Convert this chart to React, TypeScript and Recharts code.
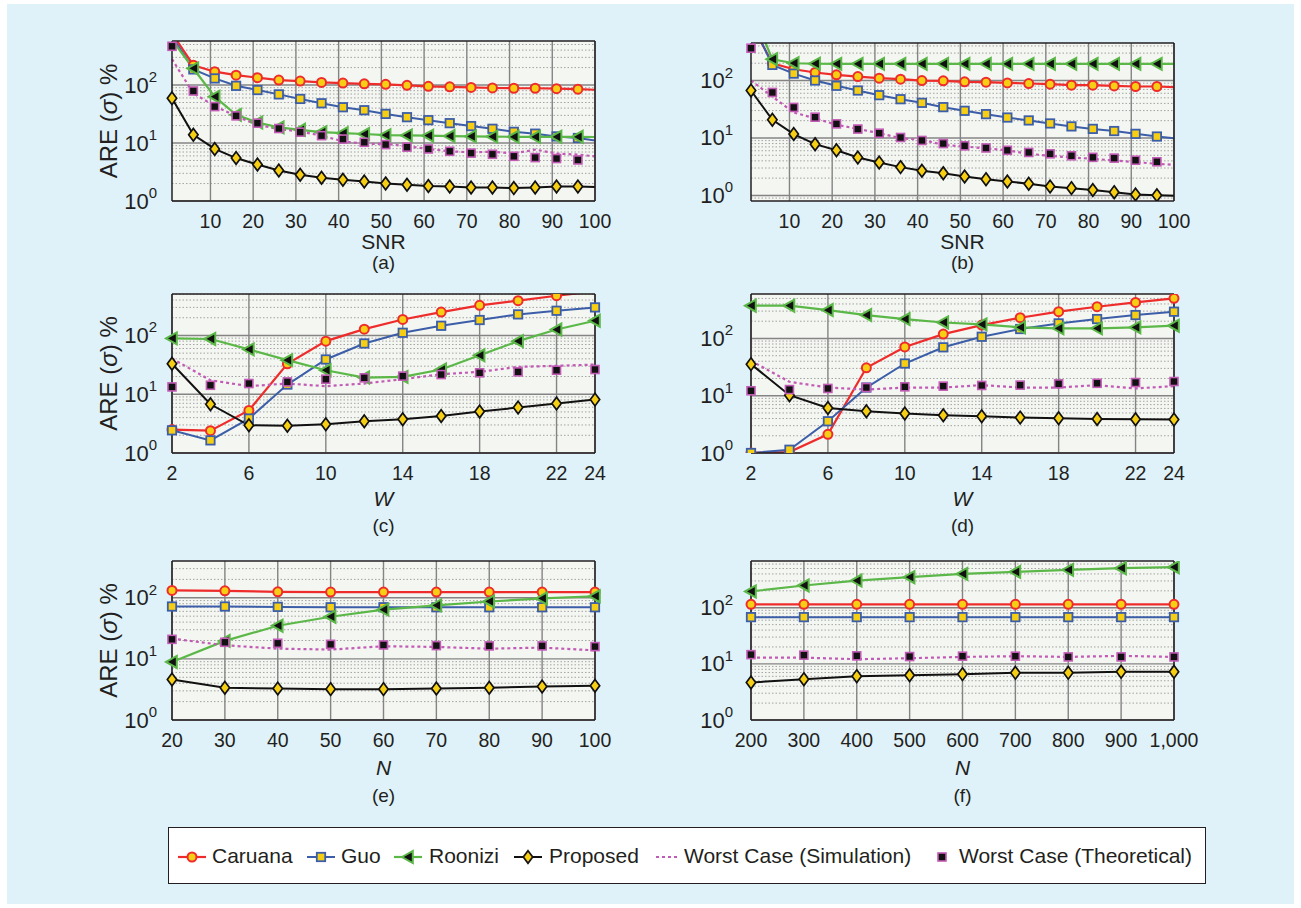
import React from 'react'
import { LineChart, Line, XAxis, YAxis, CartesianGrid, ReferenceLine } from 'recharts'

const FONT = '"Liberation Sans", Arial, Helvetica, sans-serif'
const INK = '#231f20'
const RED = '#ee2c2c'
const BLUE = '#3c5ea9'
const GREEN = '#5bb848'
const MAGENTA = '#c25bb5'
const YELLOW = '#f6cf14'
const PLOT_BG = '#f4f6f1'
const PAGE_BG = '#dff2fa'

// (a) ARE vs SNR
const snrA = [1, 6, 11, 16, 21, 26, 31, 36, 41, 46, 51, 56, 61, 66, 71, 76, 81, 86, 91, 96, 100]
const caruanaA = [780, 220, 170, 148, 134, 122, 117, 111, 108, 105, 103, 99, 95, 93, 91, 89, 88, 88, 86.5, 85, 83]
const guoA = [690, 186, 130, 97, 82, 69, 57.6, 48.5, 41.4, 36.8, 31.8, 27.9, 24.8, 22, 19.6, 17.6, 15.6, 14.5, 13, 12.2, 11.1]
const roonA = [600, 193, 63, 30.6, 22.6, 18.6, 16.9, 15.4, 14.8, 14.3, 13.7, 13.5, 13.4, 13.2, 13, 12.9, 12.8, 12.8, 12.8, 12.8, 12.7]
const propA = [59, 13.9, 7.9, 5.5, 4.25, 3.36, 2.83, 2.51, 2.32, 2.17, 2.01, 1.91, 1.81, 1.78, 1.71, 1.71, 1.67, 1.71, 1.78, 1.78, 1.74]
const wcSimA = [280, 72, 43.5, 29, 20.6, 17.4, 15.8, 13.4, 10.7, 9.7, 9.7, 8.8, 7.9, 7.2, 6.9, 7.1, 6.6, 7.7, 6.6, 6.3, 5.9]
const wcTheoA = [466, 79, 42.5, 29.4, 22, 17.8, 15.4, 13.4, 11.7, 10.3, 9.4, 8.5, 7.9, 7.2, 6.7, 6.4, 5.9, 5.6, 5.4, 5.1, null]

// (b) ARE vs SNR
const snrB = [1, 6, 11, 16, 21, 26, 31, 36, 41, 46, 51, 56, 61, 66, 71, 76, 81, 86, 91, 96, 100]
const caruanaB = [1000, 200, 157, 138, 125.5, 117, 110, 105.5, 100, 98.7, 94.8, 93.6, 91, 88.7, 86.4, 83, 83, 80.7, 78.7, 78.7, 76.6]
const guoB = [1120, 187, 132, 100, 81, 67, 55.6, 47.3, 40.9, 34.4, 29.7, 26, 22.7, 20.2, 17.9, 15.9, 14.4, 13.2, 11.8, 10.6, 9.9]
const roonB = [1800, 235, 200, 196, 195, 195, 195, 195, 195, 195, 195, 195, 195, 195, 195, 195, 195, 195, 195, 195, 195]
const propB = [67, 20.7, 11.7, 7.8, 6.1, 4.58, 3.75, 3.11, 2.69, 2.44, 2.14, 1.92, 1.75, 1.6, 1.43, 1.34, 1.24, 1.14, 1.04, 1.01, 0.99]
const wcSimB = [100, 52.7, 27.7, 22, 17, 14.4, 12.1, 9.9, 9.3, 7.6, 7.1, 6.6, 6.1, 5.3, 4.9, 4.58, 4.34, 4.06, 3.8, 3.55, 3.42]
const wcTheoB = [365, 62, 34, 23, 17.6, 14.3, 12.1, 10.2, 9.05, 8.0, 7.3, 6.7, 6.1, 5.6, 5.3, 4.9, 4.6, 4.46, 4.1, 3.85, null]

// (c) ARE vs W
const wC = [2, 4, 6, 8, 10, 12, 14, 16, 18, 20, 22, 24]
const caruanaC = [2.5, 2.4, 5.3, 33, 80, 128, 187, 250, 325, 390, 474, 560]
const guoC = [2.43, 1.64, 3.85, 14.6, 39, 73, 111, 146, 183, 228, 263, 300]
const roonC = [89, 87, 58, 38, 25.6, 19.2, 19.7, 26.3, 46, 80, 126, 178]
const propC = [33, 6.75, 2.96, 2.9, 3.08, 3.47, 3.75, 4.27, 5.07, 5.93, 6.93, 8.1]
const wcSimC = [40.5, 17.3, 13.7, 15.2, 13.7, 15.2, 18, 21.9, 24, 29.2, 30.4, 32]
const wcTheoC = [13.3, 14.2, 15.2, 16.2, 18, 19, 20.3, 21.6, 23.1, 24, 25.6, 26.3]

// (d) ARE vs W
const wD = [2, 4, 6, 8, 10, 12, 14, 16, 18, 20, 22, 24]
const caruanaD = [1.0, 1.04, 2.12, 30.7, 71, 119, 171, 230, 293, 358, 426, 501]
const guoD = [1.0, 1.14, 3.58, 13.9, 36.5, 70, 107, 146, 183, 218, 256, 293]
const roonD = [373, 373, 313, 256, 218, 190, 176, 156, 150, 150, 156, 167]
const propD = [35.6, 10.2, 6.1, 5.36, 4.88, 4.56, 4.38, 4.15, 4.04, 3.93, 3.88, 3.83]
const wcSimD = [40.7, 17.5, 13.9, 12.8, 13.9, 13.9, 15.3, 13.9, 13.9, 15.3, 13.4, 14.7]
const wcTheoD = [12.2, 12.8, 13.4, 13.9, 14.3, 14.7, 15.1, 15.3, 16.1, 16.5, 17, 17.7]

// (e) ARE vs N
const nE = [20, 30, 40, 50, 60, 70, 80, 90, 100]
const caruanaE = [132, 130, 125, 124, 124, 124, 124, 124, 124]
const guoE = [72, 72, 71, 70, 70, 70, 70, 70, 70]
const roonE = [8.9, 19.7, 34.9, 49, 64, 75, 87, 97.5, 106]
const propE = [4.6, 3.37, 3.28, 3.2, 3.2, 3.28, 3.37, 3.54, 3.63]
const wcSimE = [21.5, 16.7, 14.7, 14.2, 16.1, 15.7, 14.7, 15.3, 13.8]
const wcTheoE = [20.9, 18.7, 18, 17.3, 16.9, 16.5, 16.3, 16.3, 15.9]

// (f) ARE vs N
const nF = [200, 300, 400, 500, 600, 700, 800, 900, 1000]
const caruanaF = [115, 115, 115, 115, 115, 115, 115, 115, 115]
const guoF = [68, 68, 68, 68, 68, 68, 68, 68, 68]
const roonF = [195, 249, 305, 350, 401, 436, 473, 506, 527]
const propF = [4.66, 5.34, 6.04, 6.29, 6.56, 6.92, 6.92, 7.21, 7.21]
const wcSimF = [12.9, 12.9, 12.1, 12.6, 13.3, 13.7, 13.3, 13.9, 13.3]
const wcTheoF = [14.6, 14.3, 13.9, 13.5, 13.7, 13.7, 13.3, 13.3, 13.3]

const snrTicks = [10, 20, 30, 40, 50, 60, 70, 80, 90, 100]
const wTicks = [2, 6, 10, 14, 18, 22, 24]
const nTicksE = [20, 30, 40, 50, 60, 70, 80, 90, 100]
const nTicksF = [200, 300, 400, 500, 600, 700, 800, 900, 1000]

type Shape = 'circle' | 'square' | 'triangle' | 'diamond' | 'theo' | null

const SERIES: { key: string; name: string; color: string; width: number; dash?: string; shape: Shape }[] = [
  { key: 'caruana', name: 'Caruana', color: RED, width: 2.2, shape: 'circle' },
  { key: 'guo', name: 'Guo', color: BLUE, width: 2, shape: 'square' },
  { key: 'roonizi', name: 'Roonizi', color: GREEN, width: 2.2, shape: 'triangle' },
  { key: 'proposed', name: 'Proposed', color: '#111', width: 2, shape: 'diamond' },
  { key: 'wcSim', name: 'Worst Case (Simulation)', color: MAGENTA, width: 2.2, dash: '3 3', shape: null },
  { key: 'wcTheo', name: 'Worst Case (Theoretical)', color: 'none', width: 0, shape: 'theo' },
]

function marker(shape: Shape, cx: number, cy: number, key?: React.Key) {
  switch (shape) {
    case 'circle':
      return <circle key={key} cx={cx} cy={cy} r={4.5} fill={YELLOW} stroke={RED} strokeWidth={2} />
    case 'square':
      return <rect key={key} x={cx - 4.2} y={cy - 4.2} width={8.4} height={8.4} fill={YELLOW} stroke={BLUE} strokeWidth={1.8} />
    case 'triangle':
      return (
        <polygon key={key} points={`${cx - 6},${cy} ${cx + 4.8},${cy - 6} ${cx + 4.8},${cy + 6}`}
          fill="#111" stroke={GREEN} strokeWidth={2} strokeLinejoin="miter" />
      )
    case 'diamond':
      return (
        <polygon key={key} points={`${cx},${cy - 6.3} ${cx + 4.7},${cy} ${cx},${cy + 6.3} ${cx - 4.7},${cy}`}
          fill={YELLOW} stroke="#111" strokeWidth={1.7} />
      )
    case 'theo':
      return <rect key={key} x={cx - 4} y={cy - 4} width={8} height={8} fill="#111" stroke={MAGENTA} strokeWidth={1.6} />
    default:
      return <g key={key} />
  }
}

function makeDot(shape: Shape, yMax: number) {
  // eslint-disable-next-line @typescript-eslint/no-explicit-any
  return (props: any) => {
    const { cx, cy, index, value, payload } = props
    if (cx == null || cy == null || value == null || value > yMax || !payload.mark) return <g key={index} />
    return marker(shape, cx, cy, index)
  }
}

// eslint-disable-next-line @typescript-eslint/no-explicit-any
function PowTick({ x, y, payload }: any) {
  const exp = Math.round(Math.log10(payload.value))
  return (
    <text x={x} y={y} textAnchor="end" dominantBaseline="central" fontSize={22} fill={INK} fontFamily={FONT}>
      10<tspan dy={-9} fontSize={15}>{exp}</tspan>
    </text>
  )
}

// eslint-disable-next-line @typescript-eslint/no-explicit-any
function YTitle({ viewBox }: any) {
  if (!viewBox) return null
  const cx = viewBox.x + 16
  const cy = viewBox.y + viewBox.height / 2
  return (
    <text x={cx} y={cy} transform={`rotate(-90 ${cx} ${cy})`} textAnchor="middle" dominantBaseline="central"
      fontSize={24} fill={INK} fontFamily={FONT}>
      ARE (<tspan fontStyle="italic">σ</tspan>) %
    </text>
  )
}

// eslint-disable-next-line @typescript-eslint/no-explicit-any
function XCaption({ viewBox, title, italic, tag, titleDy, tagDy }: any) {
  if (!viewBox) return null
  const cx = viewBox.x + viewBox.width / 2
  return (
    <g>
      <text x={cx} y={viewBox.y + titleDy} textAnchor="middle" dominantBaseline="central" fontSize={21}
        fontStyle={italic ? 'italic' : 'normal'} fill={INK} fontFamily={FONT}>{title}</text>
      <text x={cx} y={viewBox.y + tagDy} textAnchor="middle" dominantBaseline="central" fontSize={19}
        fill={INK} fontFamily={FONT}>{tag}</text>
    </g>
  )
}

type Panel = {
  x: number[]
  caruana: (number | null)[]
  guo: (number | null)[]
  roonizi: (number | null)[]
  proposed: (number | null)[]
  wcSim: (number | null)[]
  wcTheo: (number | null)[]
  xDomain: [number, number]
  xTicks: number[]
  yDomain: [number, number]
  left: number
  top: number
  w: number
  h: number
  title: string
  italic: boolean
  tag: string
  yTitle: boolean
  hideLast: boolean
  titleDy: number
  tagDy: number
  tickGap: number
}

const PANELS: Panel[] = [
  { x: snrA, caruana: caruanaA, guo: guoA, roonizi: roonA, proposed: propA, wcSim: wcSimA, wcTheo: wcTheoA,
    xDomain: [1, 100], xTicks: snrTicks, yDomain: [1, 575], left: 172, top: 41, w: 423, h: 160,
    title: 'SNR', italic: false, tag: '(a)', yTitle: true, hideLast: true, titleDy: 40, tagDy: 61, tickGap: 9 },
  { x: snrB, caruana: caruanaB, guo: guoB, roonizi: roonB, proposed: propB, wcSim: wcSimB, wcTheo: wcTheoB,
    xDomain: [1, 100], xTicks: snrTicks, yDomain: [0.8, 450], left: 751, top: 43, w: 423, h: 158,
    title: 'SNR', italic: false, tag: '(b)', yTitle: false, hideLast: true, titleDy: 40, tagDy: 61, tickGap: 12 },
  { x: wC, caruana: caruanaC, guo: guoC, roonizi: roonC, proposed: propC, wcSim: wcSimC, wcTheo: wcTheoC,
    xDomain: [2, 24], xTicks: wTicks, yDomain: [1, 507], left: 172, top: 294, w: 423, h: 159,
    title: 'W', italic: true, tag: '(c)', yTitle: true, hideLast: false, titleDy: 45, tagDy: 72, tickGap: 9 },
  { x: wD, caruana: caruanaD, guo: guoD, roonizi: roonD, proposed: propD, wcSim: wcSimD, wcTheo: wcTheoD,
    xDomain: [2, 24], xTicks: wTicks, yDomain: [1, 597], left: 751, top: 294, w: 423, h: 159,
    title: 'W', italic: true, tag: '(d)', yTitle: false, hideLast: false, titleDy: 45, tagDy: 72, tickGap: 12 },
  { x: nE, caruana: caruanaE, guo: guoE, roonizi: roonE, proposed: propE, wcSim: wcSimE, wcTheo: wcTheoE,
    xDomain: [20, 100], xTicks: nTicksE, yDomain: [1, 400], left: 172, top: 561, w: 423, h: 159,
    title: 'N', italic: true, tag: '(e)', yTitle: true, hideLast: false, titleDy: 47, tagDy: 75, tickGap: 9 },
  { x: nF, caruana: caruanaF, guo: guoF, roonizi: roonF, proposed: propF, wcSim: wcSimF, wcTheo: wcTheoF,
    xDomain: [200, 1000], xTicks: nTicksF, yDomain: [1, 680], left: 751, top: 561, w: 423, h: 159,
    title: 'N', italic: true, tag: '(f)', yTitle: false, hideLast: false, titleDy: 47, tagDy: 75, tickGap: 12 },
]

function minorValues([lo, hi]: [number, number]) {
  const out: number[] = []
  for (let k = Math.floor(Math.log10(lo)); k <= Math.ceil(Math.log10(hi)); k++) {
    for (let m = 2; m <= 9; m++) {
      const v = m * Math.pow(10, k)
      if (v > lo && v < hi) out.push(v)
    }
  }
  return out
}

const ML = 80
const MT = 10
const MR = 45
const XH = 90

function PanelChart({ p }: { p: Panel }) {
  const rows = p.x.map((x, i) => ({
    x,
    caruana: p.caruana[i],
    guo: p.guo[i],
    roonizi: p.roonizi[i],
    proposed: p.proposed[i],
    wcSim: p.wcSim[i],
    wcTheo: p.wcTheo[i],
    mark: !(p.hideLast && i === p.x.length - 1),
  }))
  const majors = [1, 10, 100].filter((v) => v >= p.yDomain[0] && v <= p.yDomain[1])
  const minors = minorValues(p.yDomain)

  return (
    <div style={{ position: 'absolute', left: p.left - ML, top: p.top - MT }}>
      <LineChart width={ML + p.w + MR} height={MT + p.h + XH} data={rows}
        margin={{ top: MT, right: MR, left: 0, bottom: 0 }}>
        <CartesianGrid fill={PLOT_BG} fillOpacity={1} vertical={false} horizontalValues={minors}
          stroke="#a3a3a3" strokeDasharray="1.5 2" strokeWidth={1} />
        <CartesianGrid horizontalValues={majors} verticalValues={p.xTicks} stroke="#848484" strokeWidth={1.4} />
        <XAxis dataKey="x" type="number" domain={p.xDomain} ticks={p.xTicks} interval={0} height={XH}
          tickLine={false} tickMargin={7} axisLine={{ stroke: INK, strokeWidth: 1.5 }}
          tick={{ fontSize: 19.5, fill: INK, fontFamily: FONT }}
          tickFormatter={(v: number) => v.toLocaleString('en-US')}
          label={<XCaption title={p.title} italic={p.italic} tag={p.tag} titleDy={p.titleDy} tagDy={p.tagDy} />} />
        <YAxis type="number" scale="log" domain={p.yDomain} allowDataOverflow ticks={majors} interval={0} width={ML}
          tickLine={false} tickMargin={p.tickGap} axisLine={{ stroke: INK, strokeWidth: 1.5 }} tick={<PowTick />}
          label={p.yTitle ? <YTitle /> : undefined} />
        {SERIES.map((s) => (
          <Line key={s.key} dataKey={s.key} type="linear" isAnimationActive={false} stroke={s.color}
            strokeWidth={s.width} strokeDasharray={s.dash} dot={makeDot(s.shape, p.yDomain[1])} activeDot={false}
            connectNulls={false} />
        ))}
        <ReferenceLine y={p.yDomain[1]} stroke={INK} strokeWidth={1.5} />
        <ReferenceLine x={p.xDomain[1]} stroke={INK} strokeWidth={1.5} />
      </LineChart>
    </div>
  )
}

const legendIconLeft = [177, 306, 393, 513, 655, 935]
const legendTextLeft = [211, 340, 428, 548, 683, 958]

function Legend() {
  return (
    <div style={{ position: 'absolute', left: 168, top: 827, width: 1038, height: 57, background: '#fff',
      border: `1.5px solid ${INK}`, boxSizing: 'border-box' }}>
      {SERIES.map((s, i) => (
        <React.Fragment key={s.key}>
          <svg width={30} height={16} style={{ position: 'absolute', left: legendIconLeft[i] - 168, top: 21 }}>
            {s.shape !== 'theo' && (
              <line x1={0} y1={8} x2={s.dash ? 24 : 28} y2={8} stroke={s.color} strokeWidth={s.width}
                strokeDasharray={s.dash} />
            )}
            {s.shape && marker(s.shape, s.shape === 'theo' ? 6 : 14, 8)}
          </svg>
          <span style={{ position: 'absolute', left: legendTextLeft[i] - 168, top: 16, fontSize: 21, lineHeight: '24px',
            fontFamily: FONT, color: INK, whiteSpace: 'nowrap' }}>{s.name}</span>
        </React.Fragment>
      ))}
    </div>
  )
}

export default function App() {
  return (
    <div style={{ position: 'absolute', left: 0, top: 0, width: 1301, height: 908, background: '#fff', overflow: 'hidden' }}>
      <div style={{ position: 'absolute', left: 7, top: 4, width: 1287, height: 900, background: PAGE_BG }} />
      {PANELS.map((p) => (
        <PanelChart key={p.tag} p={p} />
      ))}
      <Legend />
    </div>
  )
}
